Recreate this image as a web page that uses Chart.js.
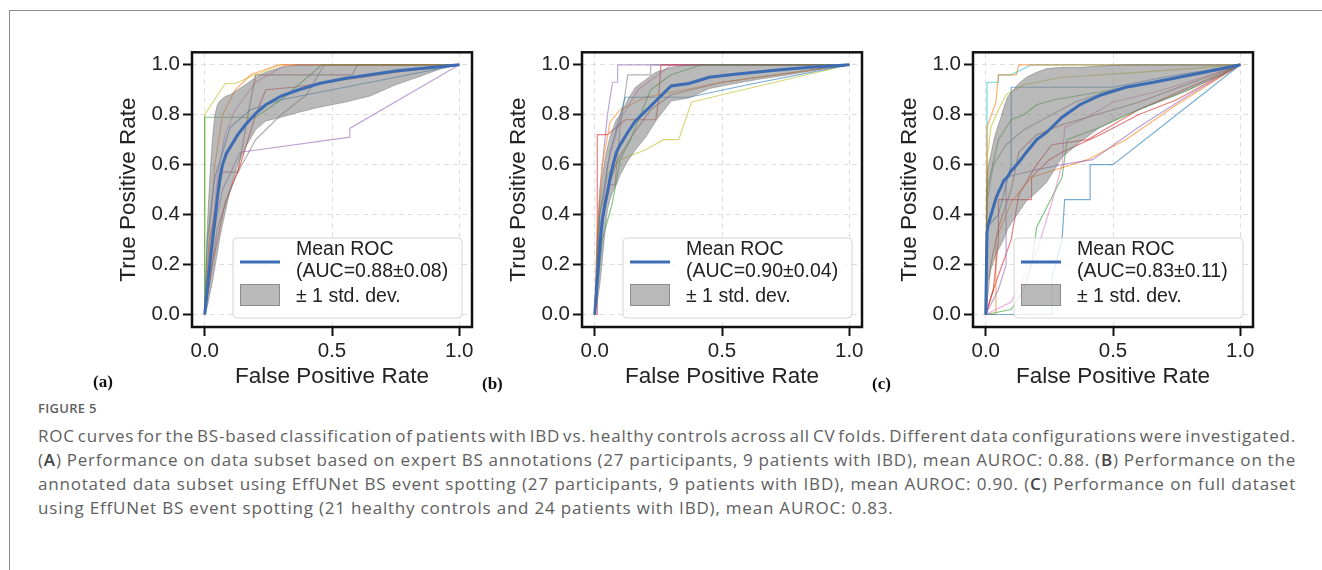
<!DOCTYPE html>
<html><head><meta charset="utf-8">
<script src="https://cdn.jsdelivr.net/npm/chart.js@4/dist/chart.umd.min.js"></script>
<style>
html,body{margin:0;padding:0;background:#fff;}
body{width:1322px;height:570px;position:relative;overflow:hidden;}
#frameTop{position:absolute;left:9px;top:10px;right:0;height:0;border-top:1px solid #8c8c8c;}
#frameLeft{position:absolute;left:9px;top:10px;bottom:0;width:0;border-left:1px solid #8c8c8c;}
canvas{position:absolute;}
.plabel{position:absolute;font-family:"Liberation Serif","Times New Roman",serif;font-weight:bold;font-size:17px;color:#111;line-height:20px;}
#caption{position:absolute;left:38px;top:398px;width:1258px;font-family:"Open Sans",sans-serif;color:#606060;}
.figno{font-size:13px;font-weight:600;line-height:20px;margin-bottom:6px;letter-spacing:0.3px;}
.cl{font-size:17px;line-height:24px;white-space:nowrap;letter-spacing:0.8px;}
.cl b{font-weight:600;color:#444;}
</style></head>
<body>
<div id="frameTop"></div><div id="frameLeft"></div>
<canvas id="cA" width="390" height="360" style="left:102px;top:37px"></canvas>
<canvas id="cB" width="390" height="360" style="left:492px;top:37px"></canvas>
<canvas id="cC" width="390" height="360" style="left:883px;top:37px"></canvas>
<div class="plabel" style="left:93px;top:372px">(a)</div>
<div class="plabel" style="left:482px;top:374px">(b)</div>
<div class="plabel" style="left:872px;top:374px">(c)</div>
<div id="caption"></div>
<script>
// ---------- data ----------
const xTicks = [0, 0.5, 1.0];
const yTicks = [0, 0.2, 0.4, 0.6, 0.8, 1.0];
const foldColors = ['#1f77b4','#ff7f0e','#2ca02c','#d62728','#9467bd','#8c564b','#e377c2','#7f7f7f','#bcbd22','#17becf'];

// Panel (a)
const fprA = [0,0.01,0.02,0.03,0.04,0.05,0.06,0.07,0.085,0.1,0.13,0.16,0.2,0.24,0.3,0.37,0.45,0.55,0.65,0.75,0.85,0.93,1];
const meanA = [0,0.1,0.2,0.29,0.38,0.47,0.55,0.6,0.645,0.67,0.72,0.76,0.805,0.84,0.875,0.9,0.925,0.945,0.96,0.975,0.985,0.993,1];
const upperA = [0,0.35,0.55,0.7,0.8,0.84,0.855,0.865,0.875,0.88,0.9,0.92,0.95,0.97,0.99,1,1,1,1,1,1,1,1];
const lowerA = [0,0.03,0.08,0.13,0.19,0.25,0.31,0.36,0.43,0.5,0.6,0.67,0.74,0.775,0.79,0.81,0.83,0.85,0.875,0.92,0.955,0.985,1];
const foldsA = [
  [[0,0],[0.01,0.3],[0.04,0.55],[0.1,0.75],[0.18,0.82],[0.3,0.86],[0.5,0.9],[0.7,0.94],[1,1]],
  [[0,0],[0.02,0.35],[0.04,0.6],[0.07,0.8],[0.12,0.9],[0.18,0.96],[0.29,1],[1,1]],
  [[0,0],[0,0.79],[0.2,0.79],[0.3,0.86],[0.46,1],[1,1]],
  [[0,0],[0.03,0.2],[0.08,0.45],[0.14,0.6],[0.2,0.8],[0.24,0.9],[0.35,0.91],[0.55,0.94],[0.75,0.97],[1,1]],
  [[0,0],[0.03,0.3],[0.07,0.5],[0.14,0.65],[0.57,0.71],[0.57,0.745],[1,1]],
  [[0,0],[0.02,0.3],[0.07,0.57],[0.13,0.57],[0.17,0.8],[0.2,0.96],[0.58,0.96],[0.6,1],[1,1]],
  [[0,0],[0.02,0.25],[0.05,0.55],[0.08,0.72],[0.12,0.82],[0.2,0.93],[0.32,1],[1,1]],
  [[0,0],[0.05,0.35],[0.12,0.55],[0.2,0.7],[0.3,0.8],[0.4,0.88],[0.47,1],[1,1]],
  [[0,0],[0,0.8],[0.08,0.925],[0.12,0.925],[0.2,0.96],[0.3,1],[1,1]]
];
const aucA = '(AUC=0.88\u00b10.08)';

// Panel (b)
const fprB = [0,0.01,0.02,0.03,0.04,0.05,0.06,0.07,0.085,0.1,0.13,0.16,0.2,0.24,0.3,0.37,0.45,0.55,0.65,0.75,0.85,0.93,1];
const meanB = [0,0.14,0.27,0.38,0.44,0.49,0.545,0.59,0.65,0.68,0.73,0.775,0.815,0.855,0.915,0.925,0.95,0.962,0.972,0.982,0.99,0.995,1];
const upperB = [0,0.3,0.45,0.55,0.62,0.67,0.71,0.74,0.78,0.8,0.86,0.91,0.94,0.97,0.99,1,1,1,1,1,1,1,1];
const lowerB = [0,0.05,0.12,0.22,0.33,0.42,0.46,0.49,0.52,0.56,0.615,0.66,0.71,0.775,0.855,0.867,0.905,0.925,0.943,0.958,0.975,0.99,1];
const foldsB = [
  [[0,0],[0.02,0.4],[0.06,0.65],[0.12,0.87],[0.37,0.87],[0.6,0.92],[1,1]],
  [[0,0],[0.01,0.35],[0.03,0.6],[0.06,0.77],[0.1,0.82],[0.2,0.87],[0.35,0.9],[0.5,0.93],[1,1]],
  [[0,0],[0.03,0.3],[0.07,0.45],[0.1,0.62],[0.14,0.7],[0.2,0.85],[0.22,0.9],[0.26,0.93],[0.3,0.96],[0.42,1],[1,1]],
  [[0,0],[0.01,0],[0.01,0.72],[0.05,0.72],[0.12,0.78],[0.24,0.78],[0.25,0.85],[0.26,1],[1,1]],
  [[0,0],[0.02,0.5],[0.05,0.8],[0.07,0.93],[0.09,0.93],[0.09,1],[1,1]],
  [[0,0],[0.02,0.3],[0.05,0.5],[0.09,0.62],[0.15,0.72],[0.22,0.82],[0.3,0.88],[0.5,0.93],[1,1]],
  [[0,0],[0.02,0.3],[0.05,0.6],[0.1,0.78],[0.17,0.9],[0.25,0.96],[0.3,1],[1,1]],
  [[0,0],[0.02,0.35],[0.06,0.52],[0.08,0.52],[0.1,0.75],[0.13,0.96],[0.22,0.96],[0.22,1],[1,1]],
  [[0,0],[0.02,0.4],[0.05,0.56],[0.1,0.62],[0.2,0.66],[0.27,0.7],[0.33,0.7],[0.38,0.85],[0.5,0.88],[1,1]]
];
const aucB = '(AUC=0.90\u00b10.04)';

// Panel (c)
const fprC = [0,0.005,0.01,0.02,0.03,0.04,0.05,0.06,0.07,0.085,0.1,0.13,0.16,0.2,0.24,0.3,0.37,0.45,0.55,0.65,0.75,0.85,0.93,1];
const meanC = [0,0.33,0.36,0.395,0.43,0.465,0.49,0.51,0.535,0.55,0.575,0.61,0.65,0.7,0.73,0.79,0.84,0.878,0.91,0.928,0.948,0.968,0.985,1];
const upperC = [0,0.55,0.6,0.64,0.69,0.73,0.76,0.79,0.825,0.87,0.89,0.925,0.95,0.97,0.985,0.99,0.99,0.995,1,1,1,1,1,1];
const lowerC = [0,0.12,0.14,0.18,0.21,0.24,0.26,0.28,0.3,0.34,0.365,0.41,0.455,0.49,0.53,0.63,0.69,0.75,0.8,0.84,0.88,0.925,0.96,1];
const foldsC = [
  [[0,0],[0.26,0],[0.26,0.15],[0.3,0.3],[0.31,0.46],[0.41,0.46],[0.41,0.6],[0.5,0.6],[1,1]],
  [[0,0],[0.005,0.75],[0.04,0.85],[0.05,0.96],[0.12,0.96],[0.13,1],[1,1]],
  [[0,0],[0.005,0.5],[0.05,0.7],[0.1,0.78],[0.15,0.8],[0.2,0.84],[0.27,0.86],[0.5,0.9],[1,1]],
  [[0,0],[0.03,0.1],[0.05,0.3],[0.05,0.46],[0.18,0.46],[0.18,0.55],[0.25,0.62],[0.3,0.65],[0.45,0.72],[0.6,0.8],[0.75,0.86],[1,1]],
  [[0,0],[0.05,0.1],[0.08,0.2],[0.08,0.55],[0.2,0.58],[0.3,0.6],[0.42,0.62],[0.6,0.75],[0.8,0.88],[1,1]],
  [[0,0],[0.02,0.2],[0.05,0.35],[0.1,0.5],[0.13,0.65],[0.2,0.72],[0.3,0.76],[0.6,0.85],[1,1]],
  [[0,0],[0.1,0.05],[0.2,0.25],[0.26,0.45],[0.3,0.6],[0.31,0.75],[0.38,0.78],[0.5,0.85],[0.7,0.9],[1,1]],
  [[0,0],[0.005,0.45],[0.03,0.6],[0.08,0.68],[0.15,0.74],[0.26,0.8],[0.35,0.85],[0.5,0.9],[1,1]],
  [[0,0],[0.005,0.62],[0.02,0.75],[0.05,0.82],[0.08,0.88],[0.15,0.92],[0.3,0.95],[0.6,0.97],[1,1]],
  [[0,0],[0.005,0],[0.005,0.93],[0.05,0.93],[0.05,0.96],[0.1,0.96],[0.18,1],[1,1]],
  [[0,0],[0.005,0.35],[0.05,0.4],[0.1,0.6],[0.1,0.91],[0.5,0.91],[0.7,0.95],[1,1]],
  [[0,0],[0.04,0],[0.04,0.3],[0.1,0.45],[0.18,0.55],[0.4,0.62],[0.55,0.7],[0.75,0.84],[1,1]],
  [[0,0],[0.1,0.02],[0.15,0.1],[0.18,0.2],[0.2,0.35],[0.3,0.55],[0.32,0.7],[0.45,0.75],[0.6,0.82],[0.8,0.9],[1,1]],
  [[0,0],[0.03,0.1],[0.1,0.3],[0.13,0.48],[0.2,0.6],[0.26,0.68],[0.4,0.7],[0.6,0.82],[1,1]]
];
const aucC = '(AUC=0.83\u00b10.11)';

const meanLabel = 'Mean ROC';
const stdLabel = '\u00b1 1 std. dev.';
const xTitle = 'False Positive Rate';
const yTitle = 'True Positive Rate';

const captionTitle = 'FIGURE 5';
const captionLines = [
  'ROC curves for the BS-based classification of patients with IBD vs. healthy controls across all CV folds. Different data configurations were investigated.',
  '(<b>A</b>) Performance on data subset based on expert BS annotations (27 participants, 9 patients with IBD), mean AUROC: 0.88. (<b>B</b>) Performance on the',
  'annotated data subset using EffUNet BS event spotting (27 participants, 9 patients with IBD), mean AUROC: 0.90. (<b>C</b>) Performance on full dataset',
  'using EffUNet BS event spotting (21 healthy controls and 24 patients with IBD), mean AUROC: 0.83.'
];

// ---------- caption (each line justified to the block width) ----------
const CAP_W = 1258;
const cap = document.getElementById('caption');
cap.innerHTML = '<div class="figno">' + captionTitle + '</div>' +
  captionLines.map(t => '<div class="cl"><span>' + t + '</span></div>').join('');
const lineEls = cap.querySelectorAll('.cl');
lineEls.forEach((el, i) => {
  if (i === lineEls.length - 1) return;
  const span = el.firstChild;
  const w = span.getBoundingClientRect().width;
  const gaps = (span.textContent.match(/ /g) || []).length;
  if (gaps) span.style.wordSpacing = ((CAP_W - w) / gaps) + 'px';
});

// ---------- charts ----------
const FONT = '"Liberation Sans", Arial, sans-serif';
function alpha(hex, a) {
  const r = parseInt(hex.slice(1,3),16), g = parseInt(hex.slice(3,5),16), b = parseInt(hex.slice(5,7),16);
  return 'rgba(' + r + ',' + g + ',' + b + ',' + a + ')';
}
const rocPlugin = {
  id: 'rocDecor',
  afterDatasetsDraw(chart) {
    const ctx = chart.ctx, a = chart.chartArea;
    const o = chart.options.plugins.rocDecor;
    ctx.save();
    const bw = 229, bh = 80;
    const bx = a.right - 10 - bw, by = a.bottom - 9 - bh;
    ctx.beginPath();
    ctx.roundRect(bx, by, bw, bh, 4);
    ctx.fillStyle = 'rgba(255,255,255,0.8)';
    ctx.fill();
    ctx.strokeStyle = '#d4d4d4';
    ctx.lineWidth = 1;
    ctx.stroke();
    ctx.strokeStyle = '#3d6cb5';
    ctx.lineWidth = 3;
    ctx.beginPath();
    ctx.moveTo(bx + 7, by + 24); ctx.lineTo(bx + 47, by + 24);
    ctx.stroke();
    ctx.fillStyle = 'rgba(128,128,128,0.55)';
    ctx.fillRect(bx + 7, by + 46, 40, 22);
    ctx.strokeStyle = 'rgba(110,110,110,0.6)';
    ctx.lineWidth = 1;
    ctx.strokeRect(bx + 7.5, by + 46.5, 39, 21);
    ctx.fillStyle = '#222';
    ctx.font = '19.5px ' + FONT;
    ctx.textBaseline = 'middle';
    ctx.textAlign = 'left';
    ctx.fillText(o.meanLabel, bx + 63, by + 12);
    ctx.fillText(o.auc, bx + 63, by + 34);
    ctx.fillText(o.stdLabel, bx + 63, by + 59);
    ctx.strokeStyle = '#111';
    ctx.lineWidth = 2.5;
    ctx.strokeRect(a.left, a.top, a.right - a.left, a.bottom - a.top);
    ctx.restore();
  }
};

function makePanel(id, fpr, mean, upper, lower, folds, auc) {
  const datasets = [];
  datasets.push({ data: fpr.map((x, i) => ({x, y: mean[i]})), borderColor: '#3d6cb5', borderWidth: 3, fill: false });
  datasets.push({ data: fpr.map((x, i) => ({x, y: upper[i]})), borderColor: 'rgba(100,100,100,0.55)', borderWidth: 0.8,
                  fill: '+1', backgroundColor: 'rgba(128,128,128,0.55)' });
  datasets.push({ data: fpr.map((x, i) => ({x, y: lower[i]})), borderColor: 'rgba(100,100,100,0.55)', borderWidth: 0.8, fill: false });
  folds.forEach((f, i) => {
    datasets.push({ data: f.map(p => ({x: p[0], y: p[1]})), borderColor: alpha(foldColors[i % 10], 0.6), borderWidth: 1.2, fill: false });
  });
  const grid = { color: '#dedede', lineWidth: 1, drawTicks: true, tickLength: 9, tickWidth: 2, tickColor: '#111' };
  new Chart(document.getElementById(id), {
    type: 'line',
    data: { datasets },
    plugins: [rocPlugin],
    options: {
      responsive: false, animation: false,
      layout: { padding: { top: 10, right: 20, left: 0, bottom: 0 } },
      elements: { point: { radius: 0, hoverRadius: 0 }, line: { tension: 0 } },
      plugins: { legend: { display: false }, tooltip: { enabled: false },
        rocDecor: { meanLabel, stdLabel, auc } },
      scales: {
        x: { type: 'linear', min: -0.05, max: 1.05,
          afterBuildTicks: s => { s.ticks = xTicks.map(v => ({value: v})); },
          afterFit: s => { s.height = 70; },
          grid, border: { display: false, dash: [5, 4] },
          ticks: { font: { family: FONT, size: 20.5 }, color: '#222', padding: 3, maxRotation: 0, autoSkip: false,
                   callback: v => Number(v).toFixed(1) },
          title: { display: true, text: xTitle, color: '#222', font: { family: FONT, size: 22.5 }, padding: { top: 0, bottom: 7 } } },
        y: { type: 'linear', min: -0.05, max: 1.05,
          afterBuildTicks: s => { s.ticks = yTicks.map(v => ({value: v})); },
          afterFit: s => { s.width = 90; },
          grid, border: { display: false, dash: [5, 4] },
          ticks: { font: { family: FONT, size: 20.5 }, color: '#222', padding: 3, autoSkip: false,
                   callback: v => Number(v).toFixed(1) },
          title: { display: true, text: yTitle, color: '#222', font: { family: FONT, size: 22.5 }, padding: { top: 13, bottom: 0 } } }
      }
    }
  });
}
makePanel('cA', fprA, meanA, upperA, lowerA, foldsA, aucA);
makePanel('cB', fprB, meanB, upperB, lowerB, foldsB, aucB);
makePanel('cC', fprC, meanC, upperC, lowerC, foldsC, aucC);
</script>
</body></html>
